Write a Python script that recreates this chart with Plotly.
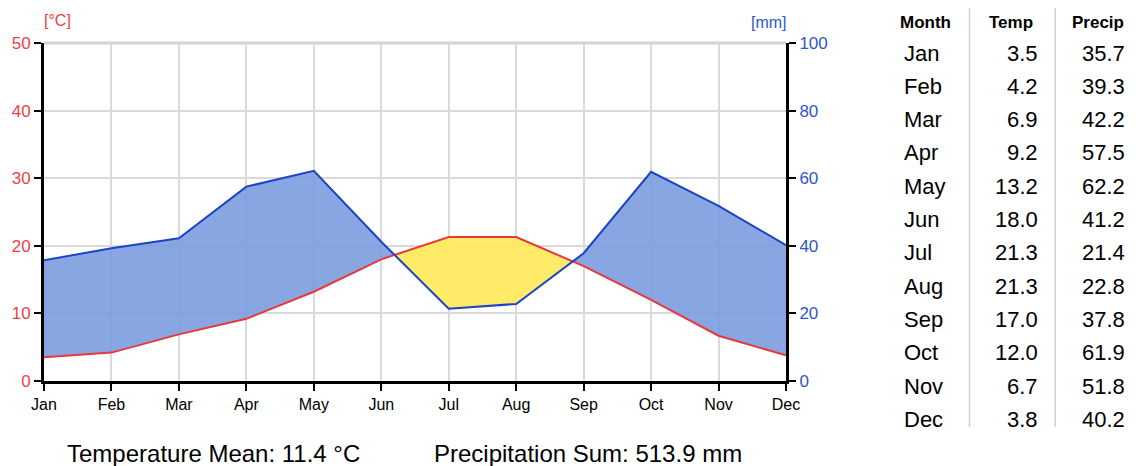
import numpy as np
import plotly.graph_objects as go

months = ["Jan", "Feb", "Mar", "Apr", "May", "Jun", "Jul", "Aug", "Sep", "Oct", "Nov", "Dec"]
temp = [3.5, 4.2, 6.9, 9.2, 13.2, 18.0, 21.3, 21.3, 17.0, 12.0, 6.7, 3.8]
precip = [35.7, 39.3, 42.2, 57.5, 62.2, 41.2, 21.4, 22.8, 37.8, 61.9, 51.8, 40.2]
temp_mean_text = "11.4"
precip_sum_text = "513.9"

RED_LINE = "#e8383b"
RED_TXT = "#ea4345"
BLUE_LINE = "#1b43c4"
BLUE_TXT = "#2f56cc"
BLUE_FILL = "rgba(120,155,222,0.88)"
YELLOW_FILL = "rgba(255,234,95,0.95)"
FONT = "Liberation Sans, Arial, Helvetica, sans-serif"

W, H = 1136, 466
L, R, T, B = 42, 786, 43, 381

x = np.arange(len(months), dtype=float)
t = np.array(temp)
p2 = np.array(precip) / 2.0  # precipitation on temperature scale (1 deg = 2 mm)

# build dense series including crossing points
xd, td, pd_ = [], [], []
for i in range(len(x)):
    xd.append(x[i]); td.append(t[i]); pd_.append(p2[i])
    if i < len(x) - 1:
        d0 = p2[i] - t[i]
        d1 = p2[i + 1] - t[i + 1]
        if d0 * d1 < 0:
            f = d0 / (d0 - d1)
            xc = x[i] + f
            tc = t[i] + f * (t[i + 1] - t[i])
            xd.append(xc); td.append(tc); pd_.append(tc)
xd = np.array(xd); td = np.array(td); pd_ = np.array(pd_)
upper = np.maximum(td, pd_)

fig = go.Figure()
fig.add_trace(go.Scatter(x=xd, y=td, mode="lines", line=dict(width=0), hoverinfo="skip", showlegend=False))
fig.add_trace(go.Scatter(x=xd, y=upper, mode="lines", line=dict(width=0), fill="tonexty",
                         fillcolor=BLUE_FILL, hoverinfo="skip", showlegend=False))
fig.add_trace(go.Scatter(x=xd, y=pd_, mode="lines", line=dict(width=0), hoverinfo="skip", showlegend=False))
fig.add_trace(go.Scatter(x=xd, y=upper, mode="lines", line=dict(width=0), fill="tonexty",
                         fillcolor=YELLOW_FILL, hoverinfo="skip", showlegend=False))
fig.add_trace(go.Scatter(x=x, y=precip, yaxis="y2", mode="lines", line=dict(color=BLUE_LINE, width=2),
                         showlegend=False))
fig.add_trace(go.Scatter(x=x, y=temp, mode="lines", line=dict(color=RED_LINE, width=2), showlegend=False))


def px(xp):
    return (xp - L) / (R - L)


def py(yp):
    return (B - yp) / (B - T)


annotations = []
annotations.append(dict(text="[°C]", x=px(56), y=py(21), xref="paper", yref="paper", showarrow=False,
                        xanchor="center", yanchor="middle", font=dict(color=RED_TXT, size=16, family=FONT)))
annotations.append(dict(text="[mm]", x=px(769), y=py(22), xref="paper", yref="paper", showarrow=False,
                        xanchor="center", yanchor="middle", font=dict(color=BLUE_TXT, size=16, family=FONT)))

hdr_y = 22
annotations.append(dict(text="<b>Month</b>", x=px(926), y=py(hdr_y), xref="paper", yref="paper", showarrow=False,
                        xanchor="center", yanchor="middle", font=dict(color="black", size=17, family=FONT)))
annotations.append(dict(text="<b>Temp</b>", x=px(1012), y=py(hdr_y), xref="paper", yref="paper", showarrow=False,
                        xanchor="center", yanchor="middle", font=dict(color="black", size=17, family=FONT)))
annotations.append(dict(text="<b>Precip</b>", x=px(1099), y=py(hdr_y), xref="paper", yref="paper", showarrow=False,
                        xanchor="center", yanchor="middle", font=dict(color="black", size=17, family=FONT)))
for i, m in enumerate(months):
    yy = 53 + 33.3 * i
    annotations.append(dict(text=m, x=px(902), y=py(yy), xref="paper", yref="paper", showarrow=False,
                            xanchor="left", yanchor="middle", font=dict(color="black", size=22, family=FONT)))
    annotations.append(dict(text=f"{temp[i]:.1f}", x=px(1041), y=py(yy), xref="paper", yref="paper",
                            showarrow=False, xanchor="right", yanchor="middle",
                            font=dict(color="black", size=22, family=FONT)))
    annotations.append(dict(text=f"{precip[i]:.1f}", x=px(1128), y=py(yy), xref="paper", yref="paper",
                            showarrow=False, xanchor="right", yanchor="middle",
                            font=dict(color="black", size=22, family=FONT)))

annotations.append(dict(text=f"Temperature Mean: {temp_mean_text} °C", x=px(212), y=py(454), xref="paper",
                        yref="paper", showarrow=False, xanchor="center", yanchor="middle",
                        font=dict(color="black", size=24, family=FONT)))
annotations.append(dict(text=f"Precipitation Sum: {precip_sum_text} mm", x=px(587), y=py(454), xref="paper",
                        yref="paper", showarrow=False, xanchor="center", yanchor="middle",
                        font=dict(color="black", size=24, family=FONT)))

shapes = [
    dict(type="line", xref="paper", yref="paper", x0=0, x1=1, y0=1, y1=1,
         line=dict(color="#d4d4d4", width=3), layer="below"),
    dict(type="line", xref="paper", yref="paper", x0=px(970), x1=px(970), y0=py(8), y1=py(427),
         line=dict(color="#d0d0d0", width=1.5)),
    dict(type="line", xref="paper", yref="paper", x0=px(1056), x1=px(1056), y0=py(8), y1=py(427),
         line=dict(color="#d0d0d0", width=1.5)),
]

fig.update_layout(
    width=W, height=H,
    margin=dict(l=L, r=W - R, t=T, b=H - B, pad=0),
    paper_bgcolor="white", plot_bgcolor="white",
    font=dict(family=FONT, color="black"),
    showlegend=False,
    xaxis=dict(range=[0, 11], tickmode="array", tickvals=list(x), ticktext=months,
               showgrid=True, gridcolor="#dadada", gridwidth=1.5, zeroline=False,
               showline=True, linecolor="black", linewidth=3,
               ticks="outside", ticklen=7, tickwidth=2, tickcolor="black",
               tickfont=dict(size=16, color="black", family=FONT), fixedrange=True),
    yaxis=dict(range=[0, 50], dtick=10, tick0=0, showgrid=True, gridcolor="#dadada", gridwidth=1.5,
               zeroline=False, showline=True, linecolor="black", linewidth=3,
               ticks="outside", ticklen=7, tickwidth=2, tickcolor="black",
               tickfont=dict(size=17, color=RED_TXT, family=FONT), fixedrange=True),
    yaxis2=dict(range=[0, 100], dtick=20, tick0=0, overlaying="y", side="right", showgrid=False,
                zeroline=False, showline=True, linecolor="black", linewidth=3,
                ticks="outside", ticklen=7, tickwidth=2, tickcolor="black",
                tickfont=dict(size=17, color=BLUE_TXT, family=FONT), fixedrange=True),
    annotations=annotations,
    shapes=shapes,
)

fig.write_html("out.html", config={"displayModeBar": False},
               post_script="document.body.style.margin='0px';document.body.style.padding='0px';")
